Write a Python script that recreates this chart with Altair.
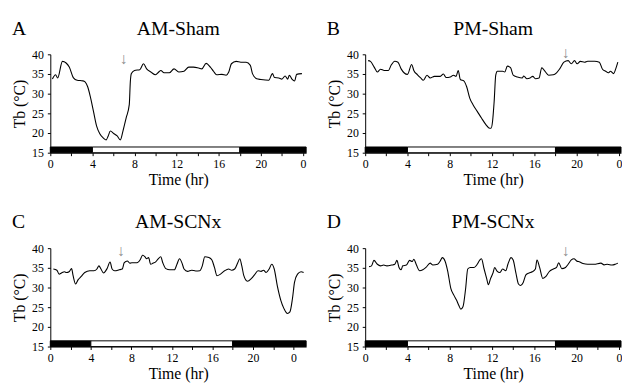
import altair as alt
import pandas as pd

FONT = "Liberation Serif"

# ---- data (time in hr, Tb in degC) ----
a_t = [0.2, 0.5, 0.7, 1.15, 1.5, 1.8, 2.2, 2.55, 3.1, 3.3, 3.55, 3.8, 4.1, 4.4, 4.7, 5.05, 5.3, 5.5, 5.7,
       6.05, 6.35, 6.65, 6.9, 7.2, 7.5, 7.6, 7.7, 8.0, 8.5, 8.85, 9.15, 9.55, 10.0, 10.3, 10.5, 10.8, 11.3,
       11.75, 12.2, 12.7, 13.15, 13.6, 14.1, 14.4, 14.8, 15.2, 15.5, 15.8, 16.3, 16.7, 16.95, 17.2, 17.65,
       18.1, 18.6, 19.0, 19.2, 19.6, 20.0, 20.75, 21.1, 21.3, 21.7, 22.0, 22.3, 22.55, 22.7, 22.95, 23.2,
       23.4, 23.9]
a_tb = [33.7, 34.8, 34.0, 38.2, 37.8, 36.75, 34.0, 33.4, 33.25, 33.0, 31.75, 29.25, 25.5, 21.75, 19.8,
        18.7, 18.25, 19.25, 20.5, 19.8, 19.25, 18.25, 20.5, 23.8, 27.2, 33.0, 35.1, 35.9, 36.1, 37.6, 36.3,
        35.5, 34.8, 35.5, 35.9, 35.3, 35.3, 36.3, 35.5, 35.7, 36.75, 36.75, 36.5, 36.3, 37.7, 36.75, 35.7,
        34.8, 34.9, 34.7, 35.5, 37.6, 38.2, 38.0, 38.0, 37.2, 35.1, 33.8, 33.6, 33.4, 35.1, 34.1, 34.0,
        33.7, 34.5, 33.7, 34.7, 33.7, 33.2, 34.9, 35.1]

b_t = [0.28, 0.5, 0.85, 1.15, 1.45, 1.8, 2.2, 2.45, 2.8, 3.1, 3.4, 3.7, 4.0, 4.4, 4.6, 4.95, 5.25, 5.5,
       5.85, 6.15, 6.55, 7.1, 7.4, 7.65, 8.05, 8.35, 8.6, 8.8, 9.0, 9.35, 9.6, 9.9, 10.2, 10.6, 11.0, 11.4,
       11.7, 11.9, 12.05, 12.2, 12.35, 12.5, 13.0, 13.2, 13.45, 13.75, 14.0, 14.4, 14.85, 15.0, 15.3, 15.6,
       15.85, 16.1, 16.45, 16.7, 17.0, 17.35, 17.8, 18.1, 18.4, 18.8, 19.2, 19.5, 19.8, 20.05, 20.35,
       20.75, 21.05, 21.7, 22.15, 22.45, 22.75, 23.0, 23.2, 23.5, 23.7, 23.9]
b_tb = [38.4, 38.2, 36.75, 35.5, 36.2, 35.9, 35.9, 37.2, 38.25, 38.0, 36.3, 35.25, 34.9, 37.4, 35.9, 34.8,
        34.0, 33.4, 34.7, 34.0, 34.4, 34.4, 35.0, 34.1, 34.25, 34.7, 34.4, 35.9, 33.6, 33.2, 31.75, 28.8,
        27.2, 25.5, 23.8, 22.2, 21.3, 21.2, 23.0, 28.0, 34.7, 35.7, 35.7, 35.5, 37.0, 36.6, 34.7, 34.25,
        34.0, 34.5, 33.8, 34.0, 34.4, 33.8, 34.0, 36.6, 35.7, 34.7, 34.8, 35.3, 36.3, 38.0, 38.4, 37.6,
        38.4, 37.6, 38.2, 38.0, 38.25, 38.25, 38.0, 36.2, 35.7, 35.3, 35.7, 35.1, 36.3, 38.0]

c_t = [0.3, 0.65, 0.87, 1.1, 1.4, 1.6, 1.85, 2.1, 2.25, 2.5, 2.75, 3.05, 3.4, 3.9, 4.3, 4.6, 4.8, 5.0,
       5.25, 5.6, 5.9, 6.1, 6.35, 6.8, 7.1, 7.3, 7.6, 7.85, 8.05, 8.55, 8.9, 9.1, 9.35, 9.5, 9.7, 9.9,
       10.15, 10.4, 10.65, 10.9, 11.1, 11.4, 11.8, 12.25, 12.5, 12.75, 13.0, 13.2, 13.55, 13.95, 14.35,
       14.75, 15.0, 15.25, 15.65, 15.95, 16.2, 16.45, 16.8, 17.2, 17.6, 17.9, 18.2, 18.5, 18.7, 18.9, 19.1,
       19.45, 19.85, 20.15, 20.5, 20.8, 21.05, 21.3, 21.6, 21.85, 22.1, 22.4, 22.75, 23.05, 23.4, 23.65,
       23.9, 24.1, 24.4, 24.75, 25.0]
c_tb = [34.7, 34.4, 33.4, 33.7, 34.0, 33.8, 34.0, 34.8, 33.0, 30.9, 32.0, 32.8, 33.8, 34.25, 34.25, 34.7,
        35.5, 34.7, 33.7, 34.8, 36.5, 34.7, 34.25, 34.5, 34.7, 36.3, 36.75, 36.2, 36.3, 36.3, 37.2, 38.2,
        37.8, 37.3, 37.6, 35.9, 36.2, 36.5, 37.3, 37.8, 36.3, 34.8, 34.5, 34.5, 35.9, 37.3, 36.2, 34.7,
        34.1, 34.4, 34.2, 34.25, 35.5, 37.8, 37.6, 37.0, 35.1, 33.0, 33.4, 34.25, 34.7, 34.4, 34.7, 36.3,
        37.3, 35.5, 33.0, 31.6, 32.3, 33.2, 34.25, 34.1, 34.4, 33.8, 34.7, 35.9, 34.7, 30.5, 26.75, 24.7,
        23.4, 23.8, 27.2, 31.3, 33.4, 34.0, 33.8]

d_t = [0.37, 0.6, 0.83, 1.15, 1.45, 1.75, 2.05, 2.5, 2.8, 3.0, 3.2, 3.4, 3.55, 3.9, 4.2, 4.45, 4.6, 4.85,
       5.15, 5.45, 5.75, 6.15, 6.4, 6.85, 7.1, 7.3, 7.55, 7.8, 8.1, 8.4, 8.65, 8.85, 9.05, 9.25, 9.5, 9.7,
       9.95, 10.3, 10.6, 10.85, 11.0, 11.25, 11.5, 11.65, 11.85, 12.1, 12.25, 12.45, 12.75, 13.0, 13.3,
       13.5, 13.8, 14.0, 14.25, 14.5, 14.7, 14.95, 15.2, 15.5, 15.8, 16.1, 16.25, 16.5, 16.8, 17.1, 17.4,
       17.8, 18.1, 18.3, 18.6, 18.95, 19.2, 19.5, 19.75, 20.0, 20.3, 20.6, 21.05, 21.65, 22.3, 22.6, 22.9,
       23.35, 23.65, 23.9]
d_tb = [35.3, 35.5, 36.9, 35.9, 35.5, 35.7, 35.5, 35.7, 35.9, 36.9, 35.1, 34.5, 35.5, 35.7, 36.9, 36.6,
        37.2, 35.7, 34.25, 34.5, 35.1, 36.2, 35.7, 35.9, 36.75, 37.6, 36.75, 34.25, 29.8, 28.0, 26.75,
        25.5, 24.5, 25.1, 29.7, 34.7, 35.1, 35.1, 35.9, 37.0, 37.3, 34.7, 32.2, 30.7, 32.2, 33.8, 35.1,
        34.25, 33.8, 34.7, 34.25, 35.9, 37.6, 37.0, 33.8, 30.9, 30.5, 31.3, 33.2, 33.7, 34.0, 34.7, 37.0,
        35.1, 32.3, 32.8, 34.0, 34.7, 35.1, 36.3, 34.8, 35.1, 35.9, 37.0, 37.3, 36.75, 36.5, 36.1, 35.9,
        35.9, 36.2, 35.75, 35.9, 35.7, 35.9, 36.2]

letters = ["A", "B", "C", "D"]
names = ["AM-Sham", "PM-Sham", "AM-SCNx", "PM-SCNx"]
x_max = [24.3, 24.2, 25.25, 24.2]
arrow_t = [7.0, 19.0, 7.0, 19.0]
arrow_tb = [38.8, 40.4, 39.3, 39.3]
phase_start = [0, 4, 18]
phase_end = [4, 18, None]  # last one runs to the end of the axis
phase = ["dark", "light", "dark"]
bar_lo, bar_hi = 15.0, 16.45
x_ticks = list(range(0, 26, 2))
y_ticks = [15, 20, 25, 30, 35, 40]

W, H = 260, 100


def panel(i, t, tb):
    xs = alt.Scale(domain=[0, x_max[i]], nice=False, zero=False)
    ys = alt.Scale(domain=[15, 40], nice=False, zero=False)
    style = dict(labelFont=FONT, labelFontSize=12, titleFont=FONT, titleFontSize=16,
                 titleFontWeight="normal", labelColor="black", titleColor="black",
                 domainColor="black", tickColor="black", grid=False, tickSize=3,
                 labelOverlap=False)
    xaxis = alt.Axis(values=[v for v in x_ticks if v <= x_max[i]],
                     labelExpr="datum.value % 4 == 0 ? '' + (datum.value % 24) : ''",
                     title="Time (hr)", labelPadding=3, titlePadding=2, labelFlush=False, **style)
    yaxis = alt.Axis(values=y_ticks, title="Tb (°C)", labelPadding=4, titlePadding=4, **style)

    bars = pd.DataFrame({
        "start": phase_start,
        "end": [e if e is not None else x_max[i] for e in phase_end],
        "phase": phase,
        "lo": [bar_lo] * 3,
        "hi": [bar_hi] * 3,
    })
    bar = alt.Chart(bars).mark_rect(stroke="black", strokeWidth=1).encode(
        x=alt.X("start:Q", scale=xs, axis=xaxis),
        x2="end:Q",
        y=alt.Y("lo:Q", scale=ys, axis=yaxis),
        y2="hi:Q",
        color=alt.Color("phase:N", scale=alt.Scale(domain=["dark", "light"], range=["black", "white"]),
                        legend=None),
    )
    df = pd.DataFrame({"t": t, "tb": tb})
    line = alt.Chart(df).mark_line(color="black", strokeWidth=1.1, interpolate="monotone").encode(
        x=alt.X("t:Q", scale=xs, axis=xaxis), y=alt.Y("tb:Q", scale=ys, axis=yaxis))
    lab = pd.DataFrame({"name": [names[i]], "letter": [letters[i]],
                        "t": [arrow_t[i]], "tb": [arrow_tb[i]], "arrow": ["↓"]})
    arr = alt.Chart(lab).mark_text(font=FONT, fontSize=16, color="#8a8a8a", clip=False).encode(
        text="arrow:N", x=alt.X("t:Q", scale=xs, axis=xaxis), y=alt.Y("tb:Q", scale=ys, axis=yaxis))
    title = alt.Chart(lab).mark_text(font=FONT, fontSize=20, color="black", baseline="alphabetic",
                                     align="center").encode(
        text="name:N", x=alt.value(W / 2), y=alt.value(-20))
    letter = alt.Chart(lab).mark_text(font=FONT, fontSize=20, color="black", baseline="alphabetic",
                                      align="left").encode(
        text="letter:N", x=alt.value(-39), y=alt.value(-20))
    return alt.layer(bar, line, arr, title, letter).properties(width=W, height=H)


panels = [panel(0, a_t, a_tb), panel(1, b_t, b_tb), panel(2, c_t, c_tb), panel(3, d_t, d_tb)]

chart = alt.concat(*panels, columns=2, spacing={"column": 20, "row": 26}).properties(
    padding={"left": 4, "top": 8, "right": 0, "bottom": 0},
    background="white",
).configure_view(stroke=None)

chart.save("out.html", embed_options={"renderer": "svg", "actions": False})
